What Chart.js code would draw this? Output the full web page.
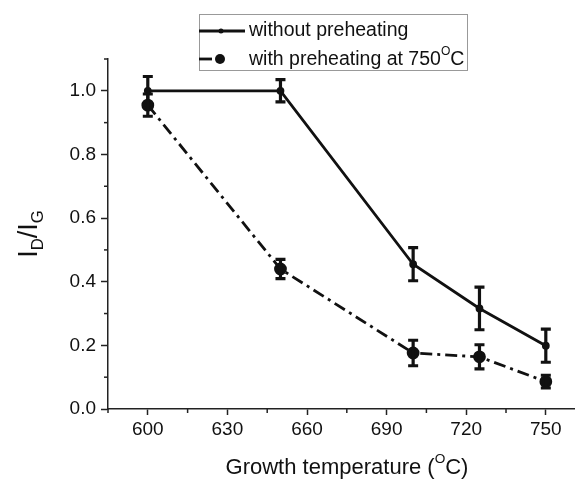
<!DOCTYPE html>
<html lang="en">
<head>
  <meta charset="UTF-8" />
  <title>ID/IG vs growth temperature</title>
  <script src="https://cdn.jsdelivr.net/npm/chart.js"></script>
  <style>
    body {
      margin: 0;
      background: #ffffff;
    }
    .chart-box {
      position: relative;
      width: 575px;
      height: 482px;
    }
  </style>
</head>
<body>

<div class="chart-box">
  <canvas id="ratioChart"></canvas>
</div>

<script>
  // Values
  const temps = [600, 650, 700, 725, 750];
  const noPreheat = [1.0, 1.0, 0.455, 0.316, 0.199];
  const noPreheatErr = [0.045, 0.035, 0.052, 0.067, 0.052];
  const preheat = [0.955, 0.44, 0.176, 0.164, 0.086];
  const preheatErr = [0.035, 0.03, 0.04, 0.038, 0.02];
  const errors = [noPreheatErr, preheatErr];

  const xTickLabels = [600, 630, 660, 690, 720, 750];
  const yTickLabels = [0.0, 0.2, 0.4, 0.6, 0.8, 1.0];

  const FONT = "'Liberation Sans', Arial, sans-serif";
  const INK = '#111';

  const isMajorX = v => xTickLabels.includes(v);
  const isMajorY = v => yTickLabels.some(t => Math.abs(t - v) < 1e-6);

  // draw text runs with sub/superscripts, returns width
  function drawRich(ctx, parts, x, y, size, measureOnly) {
    let cx = x;
    parts.forEach(p => {
      const s = p.sup || p.sub ? size * 0.62 : size;
      ctx.font = `${s}px ${FONT}`;
      const dy = p.sup ? -size * 0.42 : p.sub ? size * 0.3 : 0;
      if (!measureOnly) ctx.fillText(p.t, cx, y + dy);
      cx += ctx.measureText(p.t).width;
    });
    return cx - x;
  }

  // minor ticks, error bars, legend and axis titles
  const extras = {
    id: 'extras',
    afterDatasetsDraw(chart) {
      const ctx = chart.ctx;
      const ys = chart.scales.y;
      ctx.save();
      ctx.strokeStyle = INK;
      ctx.lineWidth = 3.2;
      chart.data.datasets.forEach((ds, di) => {
        const meta = chart.getDatasetMeta(di);
        meta.data.forEach((pt, i) => {
          const top = ys.getPixelForValue(ds.data[i].y + errors[di][i]);
          const bot = ys.getPixelForValue(ds.data[i].y - errors[di][i]);
          ctx.beginPath();
          ctx.moveTo(pt.x, top);
          ctx.lineTo(pt.x, bot);
          ctx.moveTo(pt.x - 5, top);
          ctx.lineTo(pt.x + 5, top);
          ctx.moveTo(pt.x - 5, bot);
          ctx.lineTo(pt.x + 5, bot);
          ctx.stroke();
        });
      });
      ctx.restore();
    },
    afterDraw(chart) {
      const ctx = chart.ctx;
      const xs = chart.scales.x;
      const ys = chart.scales.y;
      const area = chart.chartArea;
      ctx.save();

      // minor ticks
      ctx.strokeStyle = '#222';
      ctx.lineWidth = 1.5;
      xs.ticks.forEach(t => {
        if (isMajorX(t.value)) return;
        const px = xs.getPixelForValue(t.value);
        ctx.beginPath();
        ctx.moveTo(px, area.bottom);
        ctx.lineTo(px, area.bottom + 4);
        ctx.stroke();
      });
      ys.ticks.forEach(t => {
        if (isMajorY(t.value)) return;
        const py = ys.getPixelForValue(t.value);
        ctx.beginPath();
        ctx.moveTo(area.left, py);
        ctx.lineTo(area.left - 4, py);
        ctx.stroke();
      });

      // legend
      ctx.strokeStyle = '#999';
      ctx.lineWidth = 1;
      ctx.strokeRect(199.5, 14.5, 268, 56);
      ctx.strokeStyle = INK;
      ctx.fillStyle = INK;
      ctx.lineWidth = 2.8;
      ctx.beginPath();
      ctx.moveTo(199, 31);
      ctx.lineTo(245, 31);
      ctx.stroke();
      ctx.beginPath();
      ctx.arc(221, 31, 2.5, 0, Math.PI * 2);
      ctx.fill();
      ctx.beginPath();
      ctx.moveTo(199, 59);
      ctx.lineTo(212, 59);
      ctx.stroke();
      ctx.beginPath();
      ctx.arc(220, 59, 5, 0, Math.PI * 2);
      ctx.fill();

      ctx.textBaseline = 'middle';
      ctx.textAlign = 'left';
      drawRich(ctx, [{ t: 'without preheating' }], 249, 31, 19.5);
      drawRich(ctx, [{ t: 'with preheating at 750' }, { t: 'O', sup: true }, { t: 'C' }], 249, 60, 19.5);

      // x title
      const xParts = [{ t: 'Growth temperature (' }, { t: 'O', sup: true }, { t: 'C)' }];
      const w = drawRich(ctx, xParts, 0, 0, 22, true);
      drawRich(ctx, xParts, 347 - w / 2, 468, 22);

      // y title (rotated)
      const yParts = [{ t: 'I' }, { t: 'D', sub: true }, { t: '/I' }, { t: 'G', sub: true }];
      ctx.translate(30, 234);
      ctx.rotate(-Math.PI / 2);
      const wy = drawRich(ctx, yParts, 0, 0, 27, true);
      drawRich(ctx, yParts, -wy / 2, 0, 27);

      ctx.restore();
    }
  };

  const chart = new Chart(document.getElementById('ratioChart'), {
    type: 'line',
    data: {
      datasets: [
        {
          label: 'without preheating',
          data: temps.map((t, i) => ({ x: t, y: noPreheat[i] })),
          borderColor: INK,
          backgroundColor: INK,
          borderWidth: 2.8,
          pointRadius: 2.5,
          pointHoverRadius: 2.5,
          tension: 0
        },
        {
          label: 'with preheating at 750 °C',
          data: temps.map((t, i) => ({ x: t, y: preheat[i] })),
          borderColor: INK,
          backgroundColor: INK,
          borderWidth: 2.8,
          borderDash: [12, 5, 3, 5],
          pointRadius: 5,
          pointHoverRadius: 5,
          tension: 0
        }
      ]
    },
    options: {
      responsive: true,
      maintainAspectRatio: false,
      animation: false,
      layout: {
        autoPadding: false,
        padding: { top: 59, right: 0, left: 0, bottom: 0 }
      },
      plugins: {
        legend: { display: false },
        tooltip: { enabled: false }
      },
      scales: {
        x: {
          type: 'linear',
          min: 585,
          max: 761,
          afterFit: s => {
            s.height = 73;
            s.paddingLeft = 0;
            s.paddingRight = 0;
          },
          afterBuildTicks: s => {
            const ticks = [];
            xTickLabels.forEach(v => {
              [v - 15, v, v + 15].forEach(t => {
                if (t >= 585 && t <= 761 && !ticks.some(k => k.value === t)) ticks.push({ value: t });
              });
            });
            s.ticks = ticks.sort((a, b) => a.value - b.value);
          },
          grid: {
            drawOnChartArea: false,
            tickLength: 6,
            tickWidth: 1.5,
            tickColor: c => (c.tick && isMajorX(c.tick.value) ? '#222' : 'rgba(0,0,0,0)')
          },
          border: { color: '#222', width: 1.5 },
          ticks: {
            color: INK,
            padding: 3,
            font: { family: FONT, size: 19 },
            callback: v => (isMajorX(v) ? String(v) : '')
          }
        },
        y: {
          min: 0,
          max: 1.1,
          afterFit: s => {
            s.width = 108;
            s.paddingTop = 0;
            s.paddingBottom = 0;
          },
          afterBuildTicks: s => {
            const ticks = [];
            yTickLabels.forEach(v => {
              ticks.push({ value: v });
              ticks.push({ value: Math.round((v + 0.1) * 10) / 10 });
            });
            s.ticks = ticks;
          },
          grid: {
            drawOnChartArea: false,
            tickLength: 7,
            tickWidth: 1.5,
            tickColor: c => (c.tick && isMajorY(c.tick.value) ? '#222' : 'rgba(0,0,0,0)')
          },
          border: { color: '#222', width: 1.5 },
          ticks: {
            color: INK,
            padding: 5,
            font: { family: FONT, size: 19 },
            callback: v => (isMajorY(v) ? v.toFixed(1) : '')
          }
        }
      }
    },
    plugins: [extras]
  });
</script>

</body>
</html>
